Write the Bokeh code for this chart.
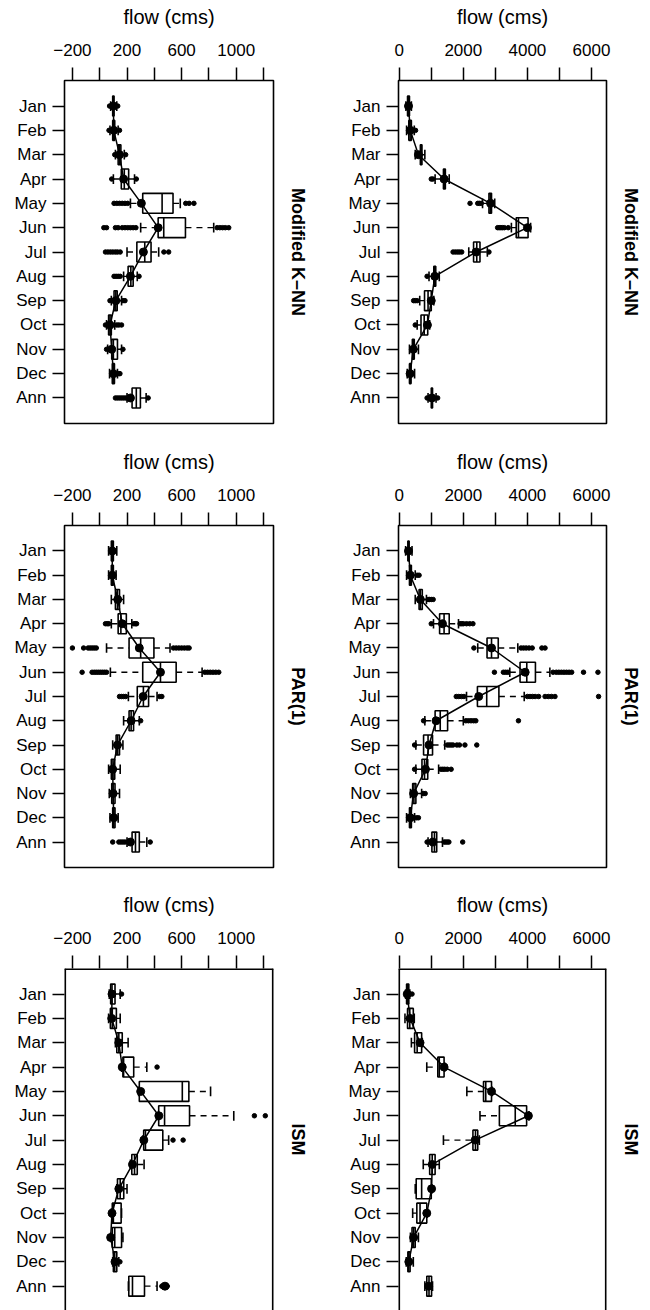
from bokeh.plotting import figure
from bokeh.models import Range1d, FixedTicker, LinearAxis, ColumnDataSource, Span
from bokeh.layouts import gridplot
from bokeh.embed import file_html
from bokeh.resources import INLINE

MONTHS = ["Jan", "Feb", "Mar", "Apr", "May", "Jun", "Jul", "Aug", "Sep", "Oct", "Nov", "Dec", "Ann"]

# ---- Modified K-NN, small scale (left column) ----
A_q1 = [95, 95, 135, 158, 315, 428, 272, 208, 105, 65, 88, 92, 237]
A_med = [100, 102, 145, 180, 457, 469, 330, 228, 118, 75, 100, 100, 268]
A_q3 = [105, 110, 155, 212, 537, 628, 376, 245, 128, 85, 130, 108, 298]
A_wlo = [80, 75, 115, 100, 225, 300, 200, 175, 85, 50, 58, 72, 200]
A_whi = [125, 135, 180, 255, 590, 835, 432, 275, 160, 110, 160, 130, 340]
A_obs = [100, 103, 145, 175, 305, 428, 320, 225, 118, 75, 88, 100, 225]
A_out = [[72, 132], [68, 145], [110, 190], [88, 268],
         [105, 125, 145, 165, 185, 205, 630, 655, 690],
         [30, 50, 115, 135, 165, 185, 205, 225, 245, 265, 860, 880, 900, 920, 945],
         [42, 60, 78, 96, 114, 130, 150, 470, 505],
         [105, 120, 135, 150, 288], [75, 170, 185], [42, 125, 140, 160],
         [50, 170], [140, 148], [115, 130, 145, 160, 175, 190, 355]]

# ---- Modified K-NN, large scale (right column) ----
B_q1 = [260, 300, 660, 1380, 2800, 3650, 2320, 1080, 790, 680, 410, 320, 1000]
B_med = [290, 340, 685, 1410, 2840, 3720, 2420, 1110, 900, 780, 440, 345, 1020]
B_q3 = [320, 380, 710, 1440, 2880, 4020, 2520, 1140, 1000, 890, 470, 370, 1040]
B_wlo = [210, 230, 500, 1120, 2600, 3500, 2170, 930, 640, 560, 320, 250, 900]
B_whi = [380, 470, 800, 1560, 2980, 4100, 2750, 1250, 1080, 950, 600, 480, 1150]
B_obs = [290, 345, 600, 1400, 2850, 4000, 2400, 1110, 1000, 880, 440, 340, 1020]
B_out = [[], [510], [], [1000, 1050], [2210, 2450, 2500, 2560],
         [3070, 3120, 3170, 3220, 3280, 3400],
         [1680, 1750, 1820, 1880, 1950, 2800], [870], [450, 500, 560], [500],
         [], [], [870, 1200]]

# ---- PAR(1), small scale ----
C_q1 = [85, 85, 115, 135, 215, 315, 275, 215, 120, 85, 88, 95, 237]
C_med = [92, 92, 130, 155, 300, 445, 320, 230, 132, 97, 98, 103, 262]
C_q3 = [100, 100, 145, 195, 397, 560, 358, 248, 145, 110, 112, 112, 290]
C_wlo = [65, 65, 85, 85, 50, 78, 210, 175, 95, 65, 70, 75, 200]
C_whi = [125, 120, 175, 235, 515, 750, 420, 290, 170, 150, 145, 135, 345]
C_obs = [92, 92, 132, 165, 290, 445, 318, 230, 130, 95, 98, 103, 225]
C_out = [[], [], [], [42, 55, 66, 250, 262, 270],
         [-200, -118, -85, -70, -55, -40, -25, 540, 560, 580, 600, 620, 640, 655],
         [-129, -56, -40, -25, -10, 5, 20, 35, 50, 770, 790, 810, 830, 850, 872],
         [145, 160, 175, 190, 440, 455],
         [300], [], [], [], [],
         [95, 140, 155, 170, 185, 370]]

# ---- PAR(1), large scale ----
D_q1 = [270, 320, 620, 1260, 2740, 3770, 2440, 1120, 760, 710, 420, 320, 1020]
D_med = [290, 345, 660, 1400, 2880, 3980, 2730, 1280, 900, 790, 460, 345, 1100]
D_q3 = [310, 380, 720, 1560, 3090, 4250, 3110, 1510, 1040, 890, 520, 380, 1170]
D_wlo = [200, 230, 500, 1070, 2450, 3450, 2100, 800, 520, 520, 350, 230, 900]
D_whi = [400, 500, 850, 1850, 3700, 4700, 3900, 2000, 1420, 1230, 700, 480, 1350]
D_obs = [290, 345, 660, 1350, 2880, 3930, 2480, 1150, 930, 820, 450, 345, 1050]
D_out = [[], [560, 620], [900, 950, 1000, 1060],
         [1000, 1900, 1950, 2000, 2100, 2200, 2300],
         [2330, 3800, 3880, 3960, 4050, 4150, 4450, 4550],
         [2970, 3250, 3320, 3390, 4800, 4900, 4980, 5060, 5140, 5220, 5300, 5380, 5750, 6200],
         [1780, 1860, 1940, 2020, 4000, 4080, 4160, 4240, 4350, 4550, 4650, 4750, 4860, 6220],
         [760, 2080, 2160, 2240, 2320, 2390, 3720],
         [480, 1500, 1560, 1620, 1680, 1800, 1880, 2050, 2420],
         [480, 1300, 1360, 1420, 1500, 1620],
         [750, 810], [540, 600],
         [870, 1400, 1450, 1500, 1550, 1980]]

# ---- ISM, small scale ----
E_q1 = [80, 78, 125, 170, 290, 432, 322, 235, 130, 92, 92, 100, 213]
E_med = [90, 92, 140, 175, 605, 475, 335, 255, 150, 100, 110, 110, 240]
E_q3 = [112, 122, 165, 249, 653, 658, 462, 275, 176, 157, 160, 125, 328]
E_wlo = [70, 65, 115, 160, 285, 430, 315, 225, 125, 85, 80, 95, 210]
E_whi = [150, 150, 208, 345, 812, 982, 505, 325, 200, 160, 170, 140, 420]
E_obs = [90, 88, 140, 165, 300, 433, 323, 240, 140, 90, 80, 112, 478]
E_out = [[160], [], [], [420], [], [1133, 1213], [537, 611], [], [], [], [], [148],
         [455, 495]]

# ---- ISM, large scale ----
F_q1 = [230, 260, 480, 1205, 2630, 3125, 2300, 950, 530, 550, 400, 270, 860]
F_med = [260, 330, 560, 1250, 2700, 3620, 2380, 1030, 700, 650, 450, 300, 930]
F_q3 = [300, 440, 700, 1400, 2880, 3975, 2450, 1120, 1000, 860, 500, 340, 1010]
F_wlo = [200, 180, 380, 860, 2110, 2520, 1380, 750, 500, 420, 350, 220, 800]
F_whi = [330, 470, 720, 1420, 2900, 4050, 2500, 1250, 1020, 880, 600, 440, 1040]
F_obs = [250, 340, 650, 1400, 2880, 4030, 2370, 1030, 1010, 860, 450, 300, 920]
F_out = [[400], [], [], [], [], [], [], [], [], [], [], [], []]

SMALL_TICKS = [-200, 0, 200, 400, 600, 800, 1000, 1200]
SMALL_LABELS = {-200: "\u2212200", 0: "", 200: "200", 400: "", 600: "600", 800: "", 1000: "1000", 1200: ""}
LARGE_TICKS = [0, 1000, 2000, 3000, 4000, 5000, 6000]
LARGE_LABELS = {0: "0", 1000: "", 2000: "2000", 3000: "", 4000: "4000", 5000: "", 6000: "6000"}

FONT = "Liberation Sans"
BOX_H = 0.41
CAP_H = 0.2


def make_panel(q1, med, q3, wlo, whi, obs, out, xr, ticks, labels, strip,
               width, bl, br, height, bt, bb, yr, cut=False):
    p = figure(width=width, height=height, x_range=Range1d(*xr), y_range=Range1d(*yr),
               x_axis_location="above", output_backend="svg", toolbar_location=None,
               min_border_left=bl, min_border_right=br, min_border_top=bt,
               min_border_bottom=bb)
    p.grid.visible = False
    p.background_fill_color = "white"
    p.border_fill_color = "white"
    if cut:
        p.outline_line_color = None
    else:
        p.outline_line_color = "black"
        p.outline_line_width = 1.6

    ypos = list(range(1, len(MONTHS) + 1))
    src = ColumnDataSource(dict(
        y=ypos, q1=q1, med=med, q3=q3, wlo=wlo, whi=whi, obs=obs,
        ytop=[y - BOX_H for y in ypos], ybot=[y + BOX_H for y in ypos],
        ctop=[y - CAP_H for y in ypos], cbot=[y + CAP_H for y in ypos],
    ))
    # whiskers (dashed)
    p.segment(x0="wlo", y0="y", x1="q1", y1="y", source=src, line_color="black",
              line_width=1.4, line_dash="6 5")
    p.segment(x0="q3", y0="y", x1="whi", y1="y", source=src, line_color="black",
              line_width=1.4, line_dash="6 5")
    # caps
    p.segment(x0="wlo", y0="ctop", x1="wlo", y1="cbot", source=src, line_color="black", line_width=1.6)
    p.segment(x0="whi", y0="ctop", x1="whi", y1="cbot", source=src, line_color="black", line_width=1.6)
    # boxes
    p.quad(left="q1", right="q3", top="ytop", bottom="ybot", source=src,
           fill_color=None, line_color="black", line_width=1.6)
    p.segment(x0="med", y0="ytop", x1="med", y1="ybot", source=src, line_color="black", line_width=1.6)
    # outliers
    ox = [v for lst in out for v in lst]
    oy = [i + 1 for i, lst in enumerate(out) for _ in lst]
    p.scatter(x=ox, y=oy, size=4.5, marker="circle", fill_color="black", line_color="black")
    # observed statistic
    lsrc = ColumnDataSource(dict(x=obs[:12], y=ypos[:12]))
    p.line(x="x", y="y", source=lsrc, line_color="black", line_width=1.5)
    p.scatter(x="obs", y="y", source=src, size=8, marker="circle", fill_color="black", line_color="black")

    if cut:
        for loc, dim in ((xr[0], "height"), (xr[1], "height"), (yr[1], "width")):
            p.add_layout(Span(location=loc, dimension=dim, line_color="black", line_width=3.2))

    xa = p.xaxis[0]
    xa.ticker = FixedTicker(ticks=ticks)
    xa.major_label_overrides = labels
    xa.axis_line_color = None
    xa.major_tick_in = 0
    xa.major_tick_out = 13
    xa.major_tick_line_width = 1.5
    xa.minor_tick_line_color = None
    xa.major_label_standoff = 12
    xa.major_label_text_font = FONT
    xa.major_label_text_font_size = "17px"
    xa.major_label_text_color = "black"
    xa.axis_label = "flow (cms)"
    xa.axis_label_text_font = FONT
    xa.axis_label_text_font_size = "20px"
    xa.axis_label_text_font_style = "normal"
    xa.axis_label_text_color = "black"
    xa.axis_label_standoff = 13

    ya = p.yaxis[0]
    ya.ticker = FixedTicker(ticks=ypos)
    ya.major_label_overrides = {i + 1: m for i, m in enumerate(MONTHS)}
    ya.axis_line_color = None
    ya.major_tick_in = 0
    ya.major_tick_out = 12
    ya.major_tick_line_width = 1.5
    ya.minor_tick_line_color = None
    ya.major_label_standoff = 6
    ya.major_label_text_font = FONT
    ya.major_label_text_font_size = "17px"
    ya.major_label_text_color = "black"

    sa = LinearAxis(ticker=FixedTicker(ticks=[]), axis_label=strip,
                    axis_line_color=None, major_tick_line_color=None,
                    minor_tick_line_color=None, major_tick_out=0, major_tick_in=0,
                    major_label_standoff=0, major_label_text_font_size="0px",
                    axis_label_standoff=14, axis_label_text_font=FONT,
                    axis_label_text_font_size="18px", axis_label_text_font_style="bold",
                    axis_label_text_color="black")
    p.add_layout(sa, "right")
    return p


SMALL_XR = (-258, 1273)
LARGE_XR = (-22, 6467)
YR_FULL = (14.05, -0.05)
YR_CUT = (14.0, -0.05)

left_geom = dict(width=325, bl=64, br=52)
right_geom = dict(width=325, bl=73, br=44)

# rows: 0-445, 445-888, 888-1310 ; frames at 80-423, 525-867, 968-1310
p1 = make_panel(A_q1, A_med, A_q3, A_wlo, A_whi, A_obs, A_out, SMALL_XR, SMALL_TICKS, SMALL_LABELS,
                "Modified K\u2013NN", height=445, bt=80, bb=22, yr=YR_FULL, **left_geom)
p2 = make_panel(B_q1, B_med, B_q3, B_wlo, B_whi, B_obs, B_out, LARGE_XR, LARGE_TICKS, LARGE_LABELS,
                "Modified K\u2013NN", height=445, bt=80, bb=22, yr=YR_FULL, **right_geom)
p3 = make_panel(C_q1, C_med, C_q3, C_wlo, C_whi, C_obs, C_out, SMALL_XR, SMALL_TICKS, SMALL_LABELS,
                "PAR(1)", height=443, bt=80, bb=21, yr=YR_FULL, **left_geom)
p4 = make_panel(D_q1, D_med, D_q3, D_wlo, D_whi, D_obs, D_out, LARGE_XR, LARGE_TICKS, LARGE_LABELS,
                "PAR(1)", height=443, bt=80, bb=21, yr=YR_FULL, **right_geom)
p5 = make_panel(E_q1, E_med, E_q3, E_wlo, E_whi, E_obs, E_out, SMALL_XR, SMALL_TICKS, SMALL_LABELS,
                "ISM", height=422, bt=80, bb=0, yr=YR_CUT, cut=True, **left_geom)
p6 = make_panel(F_q1, F_med, F_q3, F_wlo, F_whi, F_obs, F_out, LARGE_XR, LARGE_TICKS, LARGE_LABELS,
                "ISM", height=422, bt=80, bb=0, yr=YR_CUT, cut=True, **right_geom)

grid = gridplot([[p1, p2], [p3, p4], [p5, p6]], toolbar_location=None)

open("out.html", "w").write(file_html(grid, INLINE))
